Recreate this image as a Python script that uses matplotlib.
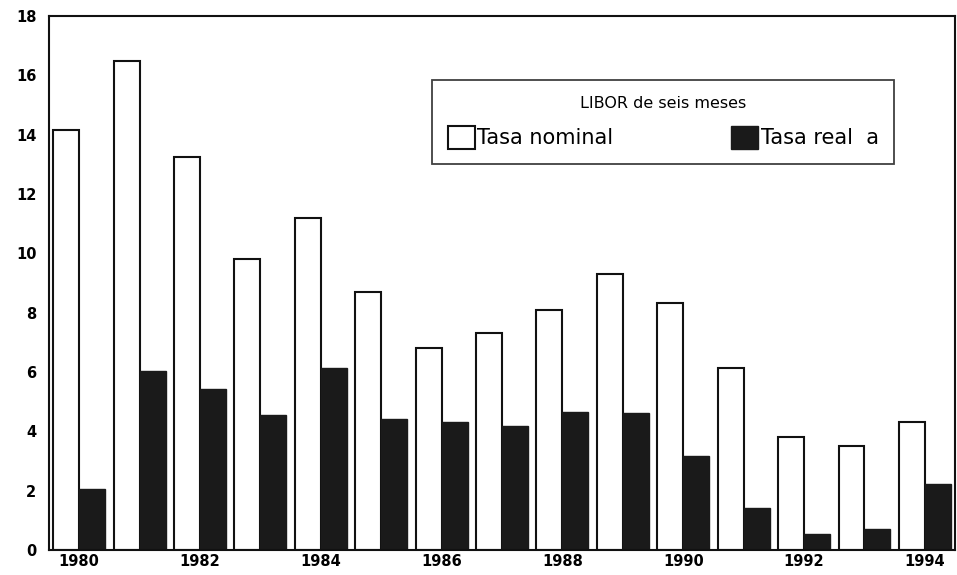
import matplotlib
matplotlib.use("Agg")
import matplotlib.pyplot as plt
import numpy as np
from matplotlib.patches import Patch

years = list(range(1980, 1995))
nominal = [14.16, 16.47, 13.26, 9.81, 11.18, 8.69, 6.80, 7.31, 8.09, 9.31,
           8.31, 6.14, 3.81, 3.52, 4.32]
real = [2.06, 6.02, 5.42, 4.56, 6.12, 4.42, 4.30, 4.19, 4.66, 4.61,
        3.17, 1.43, 0.55, 0.72, 2.21]
yticks = [0, 2, 4, 6, 8, 10, 12, 14, 16, 18]
xtick_years = [1980, 1982, 1984, 1986, 1988, 1990, 1992, 1994]
legend_title = "LIBOR de seis meses"
labels = ["Tasa nominal", "Tasa real  a"]

plt.rcParams['font.family'] = ['DejaVu Sans']
fig = plt.figure(figsize=(9.57, 5.75), dpi=100)
ax = fig.add_axes([0.0512, 0.0435, 0.9468, 0.9287])

x = np.arange(len(years))
w = 0.43
ax.bar(x - w / 2, nominal, width=w, color="white", edgecolor="#111111", linewidth=1.5)
ax.bar(x + w / 2, real, width=w, color="#1a1a1a", edgecolor="#1a1a1a", linewidth=1.0)

ax.set_xlim(-0.5, len(years) - 0.5)
ax.set_ylim(0, 18)
ax.set_yticks(yticks)
ax.set_yticklabels([str(v) for v in yticks], fontsize=10.5, fontweight="bold")
ax.set_xticks([years.index(y) for y in xtick_years])
ax.set_xticklabels([str(y) for y in xtick_years], fontsize=10.5, fontweight="bold")
ax.tick_params(axis="both", length=0)
ax.tick_params(axis="y", pad=9)
ax.tick_params(axis="x", pad=3)
for s in ax.spines.values():
    s.set_linewidth(1.5)
    s.set_color("#111111")

handles = [Patch(facecolor="white", edgecolor="#111111", linewidth=1.5),
           Patch(facecolor="#1a1a1a", edgecolor="#1a1a1a")]
leg = ax.legend(handles, labels, title=legend_title, ncol=2,
                loc="upper left", bbox_to_anchor=(0.423, 0.880, 0.510, 0.0),
                mode="expand", fontsize=15, title_fontsize=11.5,
                frameon=True, fancybox=False, edgecolor="#111111",
                handlelength=1.3, handleheight=1.3, handletextpad=0.12,
                columnspacing=0.8, borderpad=0.75, labelspacing=0.3,
                borderaxespad=0)
leg.get_frame().set_linewidth(1.3)
leg._legend_box.sep = 11

fig.savefig("out.png", dpi=100)
